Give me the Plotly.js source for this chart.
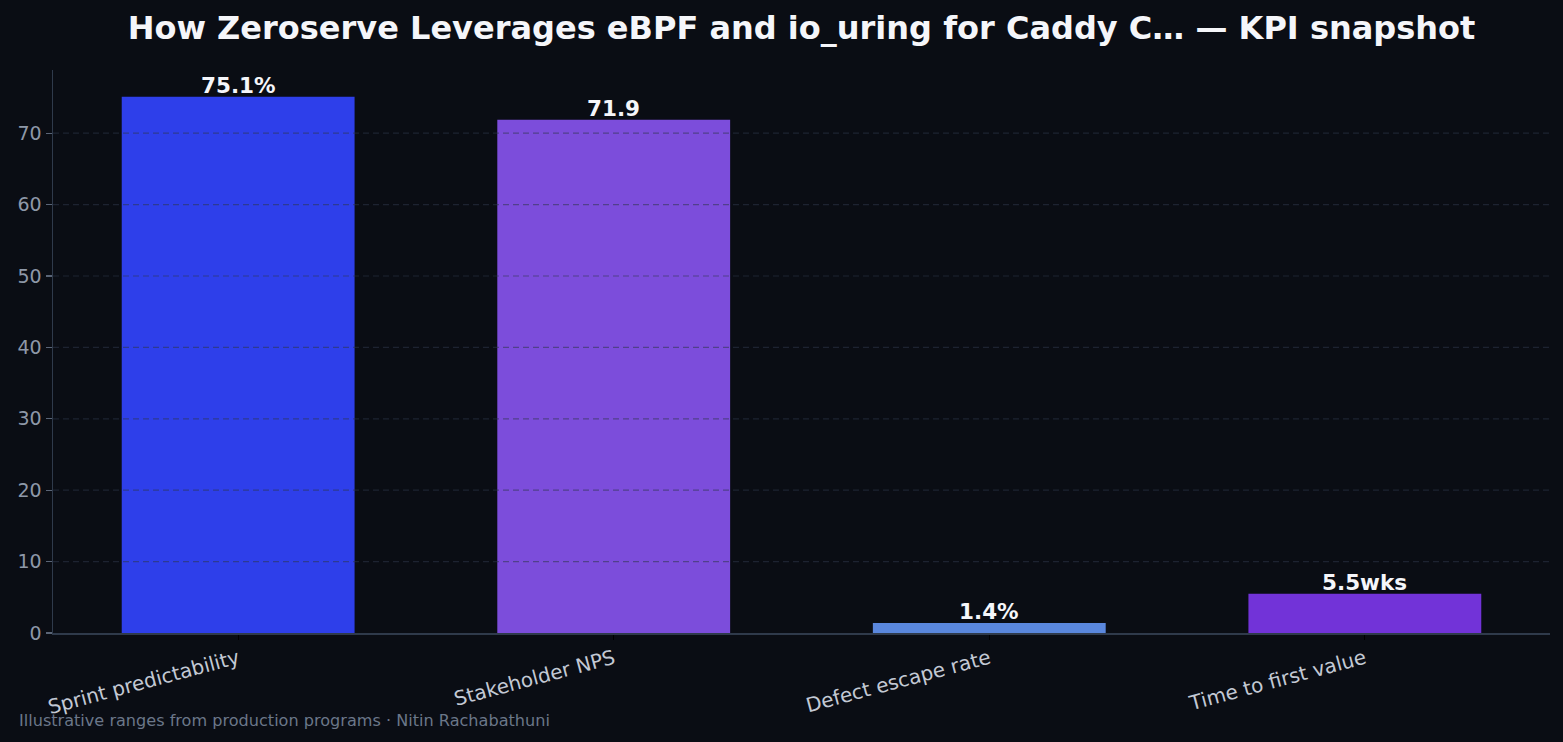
<!DOCTYPE html>
<html>
<head>
<meta charset="utf-8">
<script src="https://cdn.plot.ly/plotly-3.0.1.min.js"></script>
<style>
html,body{margin:0;padding:0;background:#0a0d14;}
#chart{width:1563px;height:742px;}
</style>
</head>
<body>
<div id="chart"></div>
<script>
const categories = ["Sprint predictability", "Stakeholder NPS", "Defect escape rate", "Time to first value"];
const values = [75.1, 71.9, 1.4, 5.5];
const valueLabels = ["75.1%", "71.9", "1.4%", "5.5wks"];
const barColors = ["#2e3fea", "#7c4ddb", "#5a87dd", "#7233d8"];
const yTicks = [0, 10, 20, 30, 40, 50, 60, 70];
const titleText = "How Zeroserve Leverages eBPF and io_uring for Caddy C\u2026 \u2014 KPI snapshot";
const footnote = "Illustrative ranges from production programs \u00b7 Nitin Rachabathuni";

const FONT = "DejaVu Sans, sans-serif";
const yMax = Math.max(...values) * 1.05;

const trace = {
  type: "bar",
  x: categories,
  y: values,
  marker: {color: barColors, line: {width: 0}},
  width: 0.62,
  hoverinfo: "skip"
};

const gridShapes = yTicks.filter(v => v > 0).map(v => ({
  type: "line", xref: "paper", yref: "y",
  x0: 0, x1: 1, y0: v, y1: v,
  layer: "above",
  line: {color: "rgba(46,55,72,0.55)", width: 1.2, dash: "6px,4px"}
}));

const valueAnnotations = categories.map((c, i) => ({
  x: c, y: values[i], xref: "x", yref: "y",
  text: "<b>" + valueLabels[i] + "</b>",
  showarrow: false,
  xanchor: "center", yanchor: "bottom",
  yshift: -3,
  font: {family: FONT, size: 21.5, color: "#f5f6fa"}
}));

const layout = {
  width: 1563, height: 742,
  paper_bgcolor: "#0a0d14",
  plot_bgcolor: "#0a0d14",
  margin: {l: 53, r: 13, t: 70, b: 109},
  font: {family: FONT},
  showlegend: false,
  title: {
    text: "<b>" + titleText + "</b>",
    font: {family: FONT, size: 32, color: "#f5f6fa"},
    x: 0.5, xref: "paper", xanchor: "center",
    y: 1 - 28/742, yref: "container", yanchor: "middle"
  },
  xaxis: {
    type: "category",
    range: [-0.493, 3.493],
    showgrid: false,
    zeroline: false,
    showline: true,
    linecolor: "#2f3a4b",
    linewidth: 1.5,
    ticks: "outside",
    ticklen: 5,
    tickwidth: 1.2,
    tickcolor: "#000000",
    tickangle: -15,
    tickfont: {family: FONT, size: 20, color: "#c3c9d4"}
  },
  yaxis: {
    range: [0, yMax],
    tickvals: yTicks,
    showgrid: false,
    zeroline: false,
    showline: true,
    linecolor: "#2f3a4b",
    linewidth: 1.5,
    ticks: "outside",
    ticklen: 6,
    tickwidth: 1.2,
    tickcolor: "#5a6577",
    tickfont: {family: FONT, size: 19, color: "#8e98a8"}
  },
  shapes: gridShapes,
  annotations: valueAnnotations.concat([{
    text: footnote,
    xref: "paper", yref: "paper",
    x: (17 - 53) / 1497, y: -(720 - 633) / 563,
    xanchor: "left", yanchor: "middle",
    showarrow: false,
    font: {family: FONT, size: 16.1, color: "#6b7789"}
  }])
};

Plotly.newPlot("chart", [trace], layout, {displayModeBar: false, staticPlot: true});
</script>
</body>
</html>
